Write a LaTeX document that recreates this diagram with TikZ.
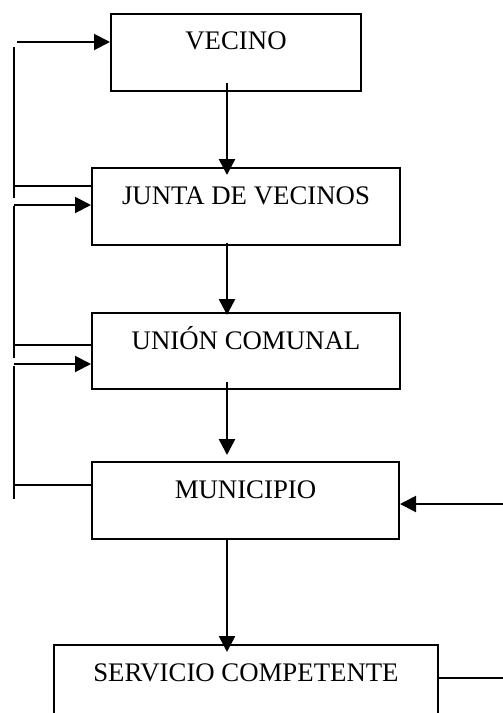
\documentclass[tikz,border=0pt]{standalone}
\usepackage{fontspec}
\setmainfont{Liberation Serif}
\usetikzlibrary{arrows.meta,calc}
\begin{document}
\begin{tikzpicture}[x=1pt,y=-1pt,
  box/.style={draw,line width=2pt,inner sep=0pt,anchor=north west,
    font=\fontsize{26.8}{30}\selectfont,text height=36pt,text depth=41pt},
  ln/.style={line width=2pt},
  arr/.style={ln,-{Triangle[length=16pt,width=16pt]}},
  varr/.style={arr,line width=2.6pt}]
\useasboundingbox (0,0) rectangle (503,713);
\clip (0,0) rectangle (503,713);
% boxes
\node[box,minimum width=250pt,text height=35pt,text depth=42pt] (vecino) at (110,13) {VECINO};
\node[box,minimum width=308pt] (junta) at (91,167) {JUNTA DE VECINOS};
\node[box,minimum width=308pt,text depth=40pt] (union) at (91,312) {UNIÓN COMUNAL};
\node[box,minimum width=307pt] (muni) at (91,461) {MUNICIPIO};
\node[box,minimum width=384pt,text depth=50pt] (serv) at (53,644) {SERVICIO COMPETENTE};
% main vertical arrows
\draw[varr] ($(vecino.south)+(-9,-9)$) -- ($(junta.north)+(-19,8)$);
\draw[varr] ($(junta.south)+(-19,-3)$) -- ($(union.north)+(-19,3)$);
\draw[varr] ($(union.south)+(-19,-8)$) -- ($(muni.north)+(-18.5,-6)$);
\draw[varr] ($(muni.south)+(-18.5,0)$) -- ($(serv.north)+(-19,8)$);
% right side
\coordinate (r1) at (503,504);
\draw[arr] (r1) -- (r1 -| muni.east);
\coordinate (r2) at (503,678);
\draw[ln] (serv.east |- r2) -- (r2);
% left side feedback lines
\coordinate (t1) at (17,42);
\draw[arr] (t1) -- (t1 -| vecino.west);
\coordinate (v1a) at (14,47); \coordinate (v1b) at (14,198);
\draw[ln] (v1a) -- (v1b);
\coordinate (h1) at (14,186);
\draw[ln] (h1) -- (h1 -| junta.west);
\coordinate (t2) at (14,205);
\draw[arr] (t2) -- (t2 -| junta.west);
\coordinate (v2a) at (14,206); \coordinate (v2b) at (14,358);
\draw[ln] (v2a) -- (v2b);
\coordinate (h2) at (14,345);
\draw[ln] (h2) -- (h2 -| union.west);
\coordinate (t3) at (14,364);
\draw[arr] (t3) -- (t3 -| union.west);
\coordinate (v3a) at (14,366); \coordinate (v3b) at (14,499);
\draw[ln] (v3a) -- (v3b);
\coordinate (h3) at (14,485);
\draw[ln] (h3) -- (h3 -| muni.west);
\end{tikzpicture}
\end{document}
